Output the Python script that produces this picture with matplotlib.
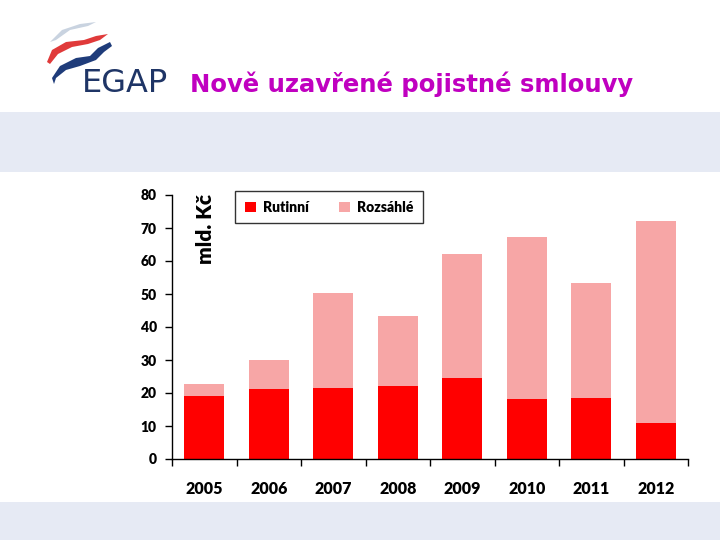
import matplotlib
matplotlib.use("Agg")
import matplotlib.pyplot as plt
from matplotlib.patches import Rectangle, Polygon
import numpy as np

years = ["2005", "2006", "2007", "2008", "2009", "2010", "2011", "2012"]
rutinni = [19.1, 21.2, 21.5, 22.1, 24.5, 18.2, 18.5, 10.9]
rozsahle = [3.6, 8.8, 28.8, 21.2, 37.6, 49.1, 34.8, 61.2]
yticks = [0, 10, 20, 30, 40, 50, 60, 70, 80]

fig = plt.figure(figsize=(7.2, 5.4), dpi=100)
fig.patch.set_facecolor("white")

# background / decoration axes in pixel coordinates
bg = fig.add_axes([0, 0, 1, 1], zorder=0)
bg.set_xlim(0, 720)
bg.set_ylim(540, 0)
bg.axis("off")
band = "#E6EAF4"
bg.add_patch(Rectangle((0, 112), 720, 60, color=band, lw=0))
bg.add_patch(Rectangle((0, 502), 720, 38, color=band, lw=0))

# logo swooshes
bg.add_patch(Polygon([[50, 42], [62, 30], [80, 24], [96, 22], [88, 26], [70, 30], [56, 40]],
                     closed=True, color="#C9D3E0", lw=0))
bg.add_patch(Polygon([[47, 62], [52, 50], [66, 42], [84, 40], [96, 36], [108, 34], [100, 40],
                      [88, 44], [72, 47], [58, 54], [50, 64]], closed=True, color="#E03A3A", lw=0))
bg.add_patch(Polygon([[52, 78], [60, 66], [76, 58], [90, 56], [98, 48], [110, 42], [112, 46],
                      [104, 52], [96, 60], [80, 66], [66, 70], [56, 78], [54, 84]], closed=True,
                     color="#1F3C7A", lw=0))
bg.text(82, 83, "EGAP", fontsize=23, color="#1F3566", va="center", ha="left",
        family="DejaVu Sans", fontweight="normal")
bg.text(190, 84, "Nově uzavřené pojistné smlouvy", fontsize=17.5, color="#C000C0",
        va="center", ha="left", family="DejaVu Sans", fontweight="bold")

ax = fig.add_axes([172 / 720, (540 - 459) / 540, (688 - 172) / 720, (459 - 195) / 540], zorder=1)
ax.patch.set_alpha(0)
x = np.arange(len(years))
w = 0.62
ax.bar(x, rutinni, width=w, color="#FF0000", label="Rutinní", zorder=2)
ax.bar(x, rozsahle, bottom=rutinni, width=w, color="#F7A6A6", label="Rozsáhlé", zorder=2)

ax.set_xlim(-0.5, len(years) - 0.5)
ax.set_ylim(0, 80)
ax.set_yticks(yticks)
ax.set_yticklabels([str(v) for v in yticks], fontsize=10, fontweight="heavy", family="Lato")
ax.set_xticks(x)
ax.set_xticklabels(years, fontsize=11.5, fontweight="heavy", family="Lato")
ax.set_xticks(np.arange(len(years) + 1) - 0.5, minor=True)
ax.tick_params(axis="x", which="major", length=0, pad=16)
ax.tick_params(axis="x", which="minor", length=5, width=1, direction="out")
ax.tick_params(axis="y", length=5, width=1, direction="out", pad=6)
for s in ["top", "right"]:
    ax.spines[s].set_visible(False)
for s in ["left", "bottom"]:
    ax.spines[s].set_linewidth(1)
    ax.spines[s].set_color("black")

ax.text(0.065, 0.87, "mld. Kč", transform=ax.transAxes, rotation=90, fontsize=15,
        fontweight="heavy", family="Lato", ha="center", va="center")

leg = ax.legend(loc="upper left", bbox_to_anchor=(235 / 720, (540 - 191) / 540),
                bbox_transform=fig.transFigure, ncol=2, frameon=True, fancybox=False,
                edgecolor="black", prop={"family": "Lato", "weight": "heavy", "size": 10},
                handlelength=0.8, handleheight=0.8, columnspacing=2.2, borderpad=0.7,
                handletextpad=0.5, borderaxespad=0)
leg.get_frame().set_linewidth(1)

fig.savefig("out.png", dpi=100, facecolor="white")
